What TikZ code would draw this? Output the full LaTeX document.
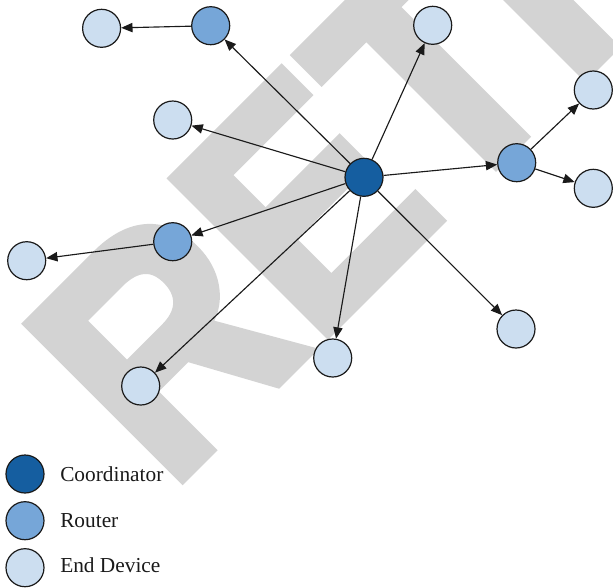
\documentclass[tikz,border=0pt]{standalone}
\usepackage{fontspec}
\setmainfont{Liberation Serif}
\newfontfamily\wmfont{Liberation Sans Bold}[FakeBold=3]
\usetikzlibrary{arrows.meta}
\definecolor{coordc}{HTML}{155EA0}
\definecolor{routc}{HTML}{76A6D8}
\definecolor{endc}{HTML}{CCDEF0}
\definecolor{wmc}{HTML}{D3D3D3}
\definecolor{edgec}{HTML}{1A1A1A}
\tikzset{
  dev/.style={circle, draw=edgec, line width=0.9pt, minimum size=28.5pt, inner sep=0pt},
  coordn/.style={dev, fill=coordc},
  routn/.style={dev, fill=routc},
  endn/.style={dev, fill=endc},
  arr/.style={draw=edgec, line width=0.85pt, -{Triangle[length=8.5pt,width=7pt]}},
  legtext/.style={anchor=base west, inner sep=0pt, font=\fontsize{16}{19}\selectfont, text=edgec}
}
\begin{document}
\begin{tikzpicture}[x=0.75pt,y=-0.75pt]
\useasboundingbox (0,0) rectangle (613,587);
\begin{scope}
\clip (0,0) rectangle (613,587);
\begin{scope}[shift={(168.6,492.5)}, rotate=45, xscale=0.896]
\node[transform shape, anchor=base west, inner sep=0pt, text=wmc,
  font=\wmfont\fontsize{238.5}{238.5}\selectfont] (wm) at (0,0) {RETRACTED};
\end{scope}
\end{scope}
% network nodes
\node[coordn] (C) at (364,177.3) {};
\node[routn] (R1) at (210.7,25.7) {};
\node[routn] (R2) at (516.7,162.7) {};
\node[routn] (R3) at (172.7,241.7) {};
\node[endn] (E1) at (101.6,28.3) {};
\node[endn] (E2) at (432.7,25.3) {};
\node[endn] (E3) at (172.7,120) {};
\node[endn] (E4) at (593.3,90) {};
\node[endn] (E5) at (593.3,188.3) {};
\node[endn] (E6) at (26.7,260.7) {};
\node[endn] (E7) at (516,329) {};
\node[endn] (E8) at (332.7,358) {};
\node[endn] (E9) at (140.7,386) {};
% connectors
\draw[arr] (C) -- (R1);
\draw[arr] (C) -- (E2);
\draw[arr] (C) -- (E3);
\draw[arr] (C) -- (R2);
\draw[arr] (C) -- (R3);
\draw[arr] (C) -- (E7);
\draw[arr] (C) -- (E8);
\draw[arr] (C) -- (E9);
\draw[arr] (R1) -- (E1);
\draw[arr] (R2) -- (E4);
\draw[arr] (R2) -- (E5);
\draw[arr] (R3) -- (E6);
% legend
\node[coordn] (L1) at (25,474) {};
\node[routn] (L2) at (25,520.7) {};
\node[endn] (L3) at (25,567.7) {};
\node[legtext] (T1) at (60,481.7) {Coordinator};
\node[legtext] (T2) at (60,527.4) {Router};
\node[legtext] (T3) at (60,572) {End Device};
\end{tikzpicture}
\end{document}
